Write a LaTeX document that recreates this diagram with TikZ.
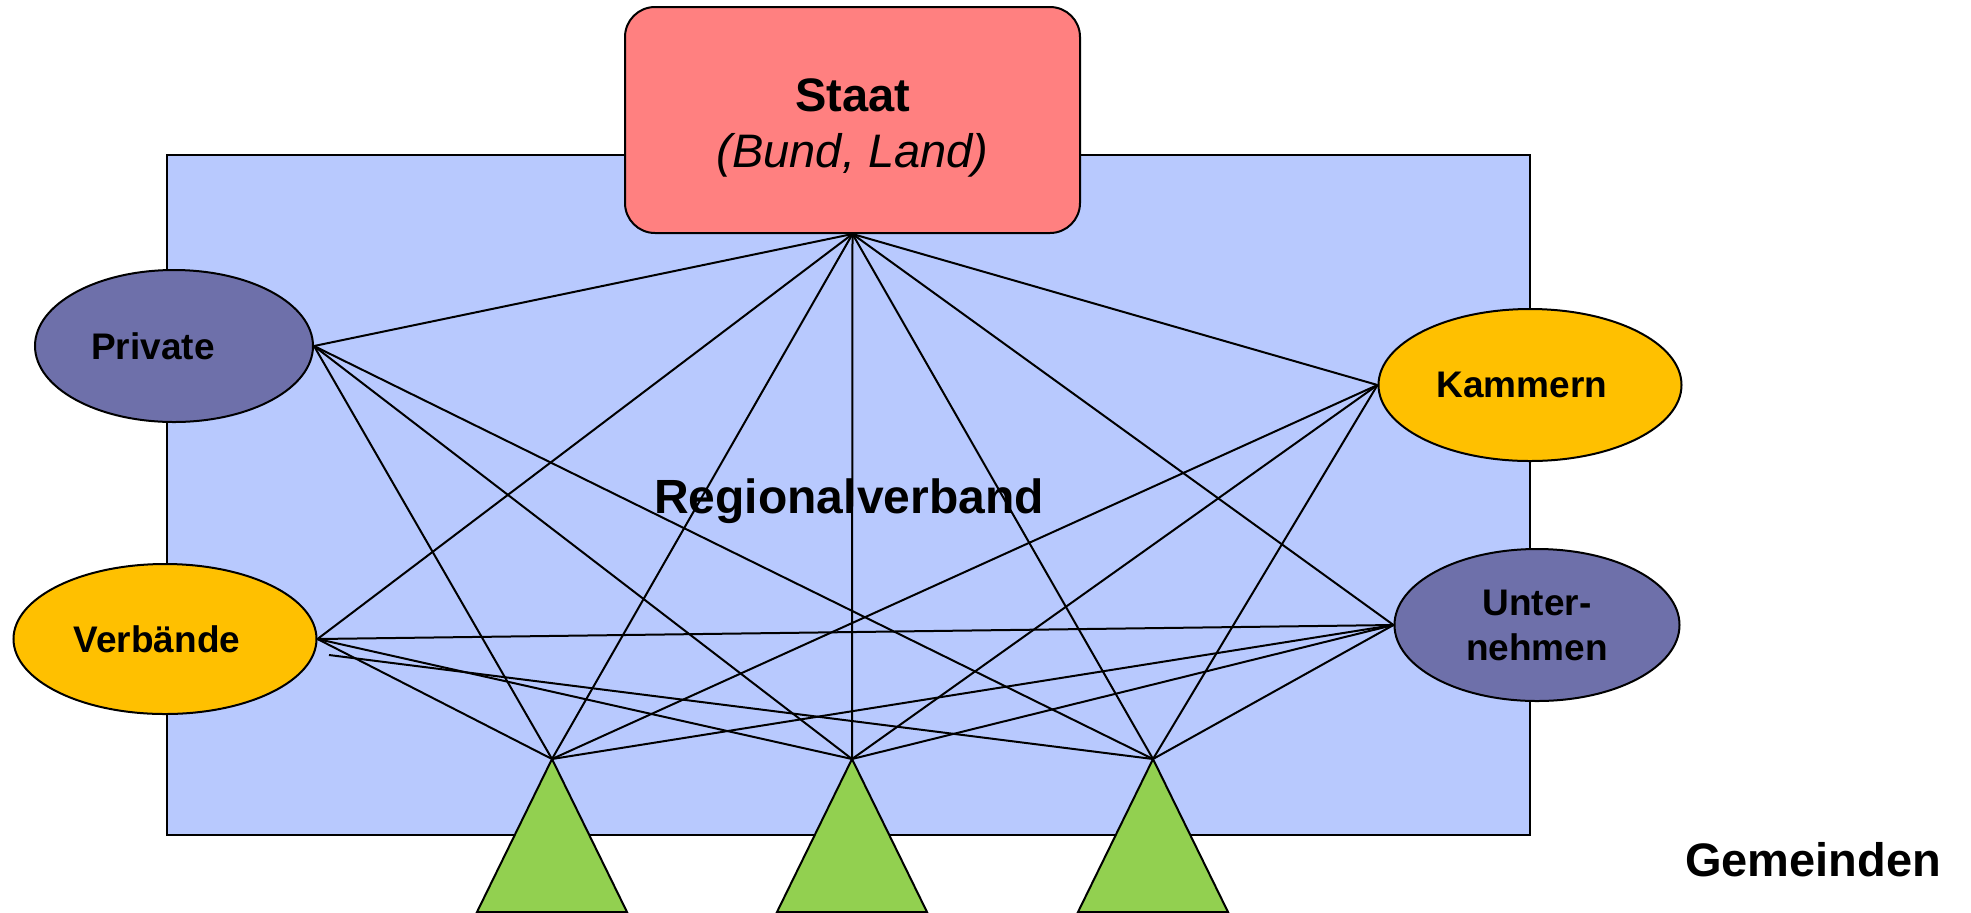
\documentclass[tikz,border=0pt]{standalone}
\usepackage{fontspec}
\setmainfont{Liberation Sans}
\usetikzlibrary{shapes.geometric}
\definecolor{regblau}{RGB}{184,201,254}
\definecolor{staatrot}{RGB}{255,128,128}
\definecolor{lila}{RGB}{110,112,170}
\definecolor{gelb}{RGB}{255,192,0}
\definecolor{gruen}{RGB}{146,208,80}
\begin{document}
\begin{tikzpicture}[x=0.5pt,y=-0.5pt,
	akteur/.style={ellipse,draw,line width=1pt,inner sep=0pt,align=center,font=\fontsize{18.5}{22.5}\selectfont\bfseries},
	verbindung/.style={line width=1pt}]
	\useasboundingbox (0,0) rectangle (1971,912);
	\filldraw[fill=regblau,line width=1pt] (167,155) rectangle (1530,835);
	\foreach \x [count=\i] in {552,852,1153} {
		\coordinate (g\i) at (\x,759);
		\filldraw[fill=gruen,line width=1pt] (g\i) -- ++(-75,153) -- ++(150,0) -- cycle;
	}
	\node (staat) [draw,fill=staatrot,line width=1pt,rounded corners=15pt,minimum width=227.5pt,minimum height=113pt,align=center,font=\fontsize{23.5}{28}\selectfont] at (852.5,120)
		{\rule{0pt}{24pt}\bfseries Staat\\\itshape (Bund, Land)};
	\node (priv) [akteur,fill=lila,minimum width=139pt,minimum height=76pt] at (174,346) {Private\hspace*{21pt}};
	\node (verb) [akteur,fill=gelb,minimum width=151.5pt,minimum height=75pt] at (165,639) {Verbände\hspace*{8pt}};
	\node (kamm) [akteur,fill=gelb,minimum width=151.5pt,minimum height=76pt] at (1530,385) {Kammern\hspace*{8pt}};
	\node (unt) [akteur,fill=lila,minimum width=142.5pt,minimum height=76pt] at (1537,625) {Unter-\\nehmen};
	\node (reg) [anchor=base,font=\fontsize{24}{28}\selectfont\bfseries] at (849,513) {Regionalverband};
	\node (gem) [anchor=base,font=\fontsize{23.5}{28}\selectfont\bfseries] at (1813,876) {Gemeinden};
	\foreach \a in {priv.east,verb.east,kamm.west,unt.west,g1,g2,g3}
		\draw[verbindung] (staat.south) -- (\a);
	\foreach \g in {g1,g2,g3} {
		\draw[verbindung] (priv.east) -- (\g);
		\draw[verbindung] (kamm.west) -- (\g);
		\draw[verbindung] (unt.west) -- (\g);
	}
	\draw[verbindung] (verb.east) -- (g1);
	\draw[verbindung] (verb.east) -- (g2);
	\draw[verbindung] (verb.east) -- (unt.west);
	\coordinate (vb) at (329,655);
	\draw[verbindung] (vb) -- (g3);
\end{tikzpicture}
\end{document}
